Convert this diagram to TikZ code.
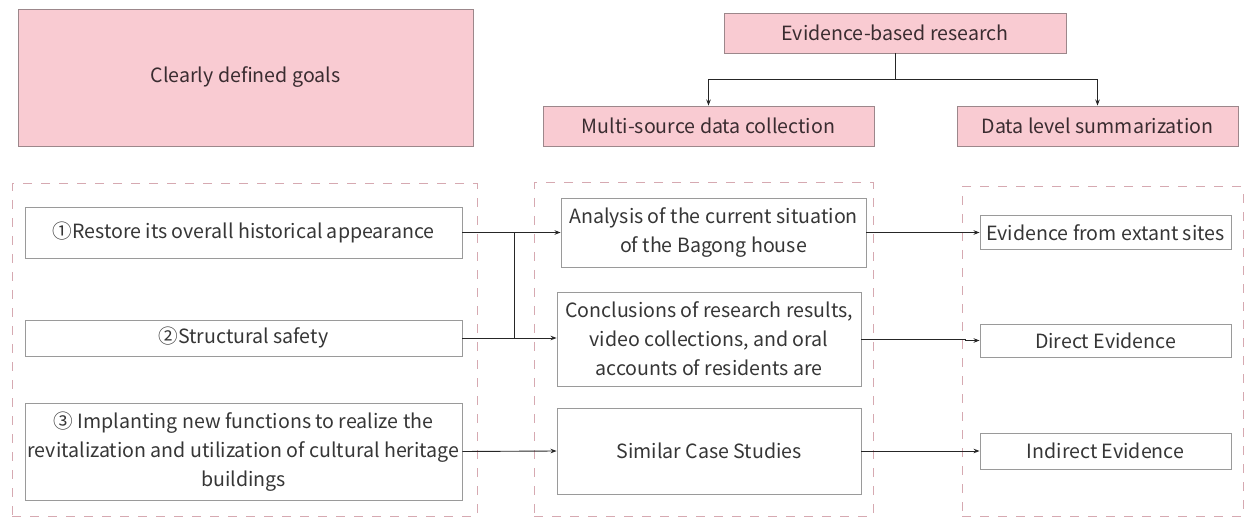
\documentclass[tikz,border=0pt]{standalone}
\usepackage{fontspec}
\setmainfont{Noto Sans CJK SC}
\usetikzlibrary{arrows.meta}

\definecolor{pinkfill}{HTML}{F9CBD2}
\definecolor{pinkedge}{HTML}{9C878B}
\definecolor{frameedge}{HTML}{D6A9B1}
\definecolor{boxedge}{HTML}{9A9A9A}
\definecolor{inkdark}{HTML}{3A2C30}
\definecolor{inkgray}{HTML}{363636}

\tikzset{
  headbox/.style={draw=pinkedge, line width=0.9pt, fill=pinkfill, inner sep=0pt,
    text=inkdark, font=\fontsize{19.6}{24}\selectfont},
  itembox/.style={draw=boxedge, line width=0.9pt, fill=white, inner sep=0pt,
    text=inkgray, align=center, font=\fontsize{19.6}{29}\selectfont},
  frame/.style={draw=frameedge, line width=1pt, dash pattern=on 9pt off 9pt, inner sep=0pt},
  link/.style={draw=black!85, line width=0.9pt, -{Stealth[length=6pt,width=4.5pt]}},
  plain/.style={draw=black!85, line width=0.9pt}
}

\begin{document}
\begin{tikzpicture}[x=1pt,y=-1pt]
\useasboundingbox (0,0) rectangle (1244,518);

% dashed group frames
\node[frame, minimum width=465, minimum height=332] (fa) at (244.5,350) {};
\node[frame, minimum width=339, minimum height=333] (fb) at (703.5,349.5) {};
\node[frame, minimum width=281, minimum height=329] (fc) at (1102.5,351.5) {};

% header boxes
\node[headbox, minimum width=455, minimum height=137] (goals) at (245.5,77.5) {Clearly defined goals};
\node[headbox, minimum width=342, minimum height=40] (evid) at (895,33) {Evidence-based research};
\node[headbox, minimum width=331, minimum height=40] (multi) at (708.5,126) {Multi-source data collection};
\node[headbox, minimum width=281, minimum height=40] (dlev) at (1097.5,126) {Data level summarization};

% goals
\node[itembox, minimum width=437, minimum height=51] (a1) at (243.5,232.5) {①Restore its overall historical appearance};
\node[itembox, minimum width=437, minimum height=36] (a2) at (243.5,338) {②Structural safety};
\node[itembox, minimum width=437, minimum height=97] (a3) at (243.5,451.5)
  {③ Implanting new functions to realize the\\revitalization and utilization of cultural heritage\\buildings};

% data sources
\node[itembox, minimum width=305, minimum height=69] (b1) at (713.5,232.5)
  {Analysis of the current situation\\of the Bagong house};
\node[itembox, minimum width=304, minimum height=94] (b2) at (709,339)
  {Conclusions of research results,\\video collections, and oral\\accounts of residents are};
\node[itembox, minimum width=304, minimum height=86] (b3) at (709,451) {Similar Case Studies};

% evidence levels
\node[itembox, minimum width=251, minimum height=34] (c1) at (1105.5,232.5) {Evidence from extant sites};
\node[itembox, minimum width=251, minimum height=33] (c2) at (1105.5,340.5) {Direct Evidence};
\node[itembox, minimum width=251, minimum height=36] (c3) at (1105.5,451) {Indirect Evidence};

% branching from the research box
\coordinate (split) at (895,79);
\draw[plain] (evid.south) -- (split);
\draw[link] (split) -| (multi.north);
\draw[link] (split) -| (dlev.north);

% goals to data sources
\coordinate (jn) at (514,338);
\draw[link] (a1.east) -- (b1.west);
\draw[plain] (a2.east) -- (jn) -- (514,232.5);
\draw[link] (jn) -- (b2.west |- jn);
\draw[link] (a3.east) -- (b3.west);

% data sources to evidence levels
\draw[link] (b1.east) -- (c1.west);
\draw[link] (b2.east) -- (965,339) -- (965,340.5) -- (c2.west);
\draw[link] (b3.east) -- (c3.west);
\end{tikzpicture}
\end{document}
